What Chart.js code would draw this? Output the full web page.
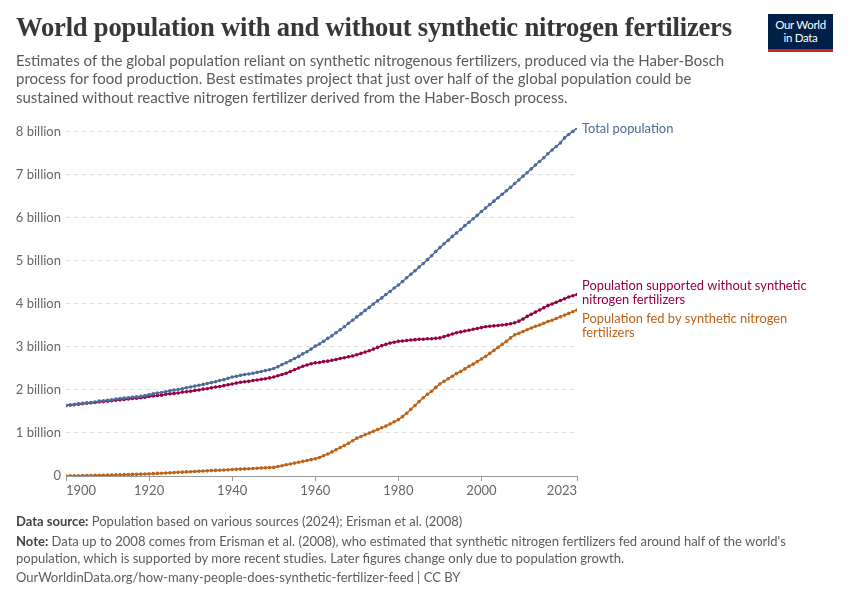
<!DOCTYPE html>
<html>
<head>
<meta charset="utf-8">
<script src="https://cdn.jsdelivr.net/npm/chart.js@4"></script>
<style>
  body { margin: 0; width: 850px; height: 600px; background: #fff; font-family: Lato, "Noto Sans", sans-serif; overflow: hidden; }
  #wrap { position: relative; width: 850px; height: 600px; }
  #chart { position: absolute; left: 0; top: 0; }
  .title { position: absolute; left: 16px; top: 12px; font-family: "Liberation Serif", "DejaVu Serif", serif; font-weight: bold; font-size: 26.6px; color: #373737; white-space: nowrap; letter-spacing: -0.2px; }
  .subtitle { position: absolute; left: 16px; top: 51px; width: 730px; font-size: 15px; line-height: 18.3px; color: #5b5b5b; }
  .logo { position: absolute; left: 768px; top: 14px; width: 65px; background: #002147; border-bottom: 3px solid #ce261e; color: #fff; font-size: 11.5px; line-height: 13px; text-align: center; padding-top: 4px; box-sizing: content-box; height: 31px; letter-spacing: -0.3px; }
  .footer { position: absolute; left: 16px; font-size: 13px; color: #5b5b5b; line-height: 16.5px; white-space: nowrap; }
  .footer b { color: #444; font-weight: bold; }
</style>
</head>
<body>
<div id="wrap">
  <canvas id="chart" width="850" height="600"></canvas>
  <div class="title">World population with and without synthetic nitrogen fertilizers</div>
  <div class="subtitle">Estimates of the global population reliant on synthetic nitrogenous fertilizers, produced via the Haber-Bosch process for food production. Best estimates project that just over half of the global population could be sustained without reactive nitrogen fertilizer derived from the Haber-Bosch process.</div>
  <div class="logo">Our World<br>in Data</div>
  <div class="footer" style="top: 513px;"><b>Data source:</b> Population based on various sources (2024); Erisman et al. (2008)</div>
  <div class="footer" style="top: 533px;"><b>Note:</b> Data up to 2008 comes from Erisman et al. (2008), who estimated that synthetic nitrogen fertilizers fed around half of the world's<br>population, which is supported by more recent studies. Later figures change only due to population growth.</div>
  <div class="footer" style="top: 569px;">OurWorldinData.org/how-many-people-does-synthetic-fertilizer-feed | CC BY</div>
</div>
<script>
// Años de 1900 a 2023
const years = Array.from({ length: 124 }, (_, i) => 1900 + i);

// Población total (miles de millones)
const totalPopulation = [
    1.64, 1.65, 1.66, 1.68, 1.69, 1.70, 1.71, 1.72, 1.74, 1.75,
    1.76, 1.77, 1.79, 1.80, 1.81, 1.82, 1.83, 1.84, 1.85, 1.87,
    1.89, 1.91, 1.93, 1.94, 1.96, 1.98, 2.00, 2.01, 2.03, 2.05,
    2.07, 2.09, 2.11, 2.13, 2.15, 2.17, 2.19, 2.22, 2.24, 2.27,
    2.30, 2.32, 2.34, 2.36, 2.37, 2.39, 2.41, 2.43, 2.45, 2.47,
    2.50, 2.54, 2.59, 2.63, 2.68, 2.73, 2.78, 2.84, 2.89, 2.95,
    3.02, 3.07, 3.13, 3.20, 3.26, 3.33, 3.40, 3.47, 3.55, 3.62,
    3.70, 3.77, 3.85, 3.92, 4.00, 4.07, 4.14, 4.22, 4.29, 4.37,
    4.44, 4.52, 4.61, 4.69, 4.77, 4.86, 4.94, 5.03, 5.12, 5.22,
    5.31, 5.40, 5.48, 5.57, 5.65, 5.73, 5.82, 5.90, 5.98, 6.06,
    6.15, 6.23, 6.31, 6.39, 6.47, 6.55, 6.63, 6.71, 6.80, 6.88,
    6.97, 7.05, 7.14, 7.23, 7.31, 7.40, 7.49, 7.58, 7.66, 7.74,
    7.86, 7.94, 8.01, 8.09
];

// Población sostenida sin fertilizantes sintéticos
const withoutFertilizers = [
    1.64, 1.65, 1.66, 1.67, 1.68, 1.69, 1.70, 1.71, 1.72, 1.73,
    1.74, 1.75, 1.76, 1.77, 1.78, 1.79, 1.80, 1.81, 1.82, 1.83,
    1.85, 1.86, 1.87, 1.88, 1.90, 1.91, 1.92, 1.93, 1.95, 1.96,
    1.97, 1.99, 2.00, 2.02, 2.03, 2.05, 2.07, 2.08, 2.10, 2.12,
    2.14, 2.16, 2.18, 2.19, 2.20, 2.22, 2.23, 2.25, 2.26, 2.28,
    2.30, 2.33, 2.36, 2.39, 2.43, 2.47, 2.51, 2.55, 2.58, 2.61,
    2.63, 2.64, 2.66, 2.67, 2.69, 2.71, 2.73, 2.75, 2.77, 2.79,
    2.82, 2.85, 2.88, 2.91, 2.95, 2.99, 3.03, 3.06, 3.09, 3.11,
    3.13, 3.14, 3.15, 3.16, 3.17, 3.18, 3.18, 3.19, 3.19, 3.20,
    3.21, 3.24, 3.27, 3.30, 3.33, 3.35, 3.37, 3.39, 3.41, 3.43,
    3.45, 3.47, 3.48, 3.49, 3.50, 3.51, 3.52, 3.54, 3.56, 3.60,
    3.65, 3.71, 3.76, 3.81, 3.86, 3.91, 3.96, 4.00, 4.04, 4.08,
    4.12, 4.16, 4.19, 4.22
];

// Población alimentada por fertilizantes sintéticos
const fedByFertilizers = [
    0.000, 0.002, 0.004, 0.006, 0.008, 0.010, 0.012, 0.014, 0.016, 0.018,
    0.020, 0.022, 0.025, 0.028, 0.031, 0.034, 0.037, 0.040, 0.043, 0.046,
    0.050, 0.055, 0.060, 0.065, 0.070, 0.075, 0.080, 0.085, 0.090, 0.095,
    0.100, 0.105, 0.110, 0.115, 0.120, 0.125, 0.130, 0.135, 0.140, 0.145,
    0.150, 0.155, 0.160, 0.165, 0.170, 0.175, 0.180, 0.185, 0.190, 0.195,
    0.20, 0.22, 0.24, 0.26, 0.28, 0.30, 0.32, 0.34, 0.36, 0.38,
    0.40, 0.43, 0.47, 0.51, 0.56, 0.61, 0.66, 0.71, 0.76, 0.82,
    0.88, 0.92, 0.96, 1.00, 1.04, 1.08, 1.12, 1.16, 1.21, 1.26,
    1.31, 1.38, 1.46, 1.55, 1.64, 1.73, 1.82, 1.90, 1.97, 2.06,
    2.14, 2.20, 2.26, 2.32, 2.38, 2.43, 2.49, 2.55, 2.60, 2.66,
    2.72, 2.78, 2.85, 2.92, 2.99, 3.06, 3.13, 3.21, 3.28, 3.32,
    3.36, 3.40, 3.44, 3.48, 3.51, 3.55, 3.59, 3.62, 3.66, 3.70,
    3.74, 3.78, 3.82, 3.86
];

const xTicks = [1900, 1920, 1940, 1960, 1980, 2000, 2023];
const yTicks = [0, 1, 2, 3, 4, 5, 6, 7, 8];

const seriesNames = [
    ["Total population"],
    ["Population supported without synthetic", "nitrogen fertilizers"],
    ["Population fed by synthetic nitrogen", "fertilizers"],
];
const seriesColors = ["#4c6a9c", "#970046", "#bc6219"];
const labelOffsets = [1, -9, 9];

function toPoints(values) {
    return years.map((year, i) => ({ x: year, y: values[i] }));
}

// Etiquetas al final de cada línea
const endLabels = {
    id: "endLabels",
    afterDatasetsDraw(chart) {
        const ctx = chart.ctx;
        ctx.save();
        ctx.font = "12.9px Lato";
        ctx.textBaseline = "middle";
        ctx.textAlign = "left";
        chart.data.datasets.forEach((ds, i) => {
            const meta = chart.getDatasetMeta(i);
            const last = meta.data[meta.data.length - 1];
            ctx.fillStyle = seriesColors[i];
            seriesNames[i].forEach((line, j) => {
                ctx.fillText(line, last.x + 5, last.y + labelOffsets[i] + j * 14);
            });
        });
        ctx.restore();
    },
};

const datasets = [totalPopulation, withoutFertilizers, fedByFertilizers].map((values, i) => ({
    label: seriesNames[i].join(" "),
    data: toPoints(values),
    borderColor: seriesColors[i],
    backgroundColor: seriesColors[i],
    borderWidth: 1.5,
    pointRadius: 1.8,
    pointBorderWidth: 0,
    pointBackgroundColor: seriesColors[i],
    tension: 0,
}));

new Chart(document.getElementById("chart"), {
    type: "line",
    data: { datasets },
    options: {
        responsive: false,
        animation: false,
        layout: { padding: { left: 10, right: 273, top: 128, bottom: 94 } },
        plugins: { legend: { display: false }, tooltip: { enabled: false } },
        scales: {
            x: {
                type: "linear",
                min: 1900,
                max: 2023,
                afterBuildTicks: (scale) => {
                    scale.ticks = xTicks.map((v) => ({ value: v }));
                },
                afterFit: (scale) => { scale.height = 30; },
                ticks: {
                    align: "inner",
                    maxRotation: 0,
                    autoSkip: false,
                    color: "#666",
                    font: { family: "Lato", size: 13 },
                    padding: 2,
                    callback: (v) => String(v),
                },
                grid: { drawOnChartArea: false, drawTicks: true, tickLength: 5, color: "#999" },
                border: { display: true, color: "#999" },
            },
            y: {
                min: 0,
                max: 8.09,
                afterBuildTicks: (scale) => {
                    scale.ticks = yTicks.map((v) => ({ value: v }));
                },
                afterFit: (scale) => { scale.width = 56; },
                ticks: {
                    color: "#666",
                    font: { family: "Lato", size: 13 },
                    padding: 5,
                    callback: (v) => (v === 0 ? "0" : v + " billion"),
                },
                grid: {
                    drawTicks: false,
                    color: (c) => (c.tick.value === 0 ? "rgba(0,0,0,0)" : "#dddddd"),
                },
                border: { display: false, dash: [4, 4] },
            },
        },
    },
    plugins: [endLabels],
});
</script>
</body>
</html>
